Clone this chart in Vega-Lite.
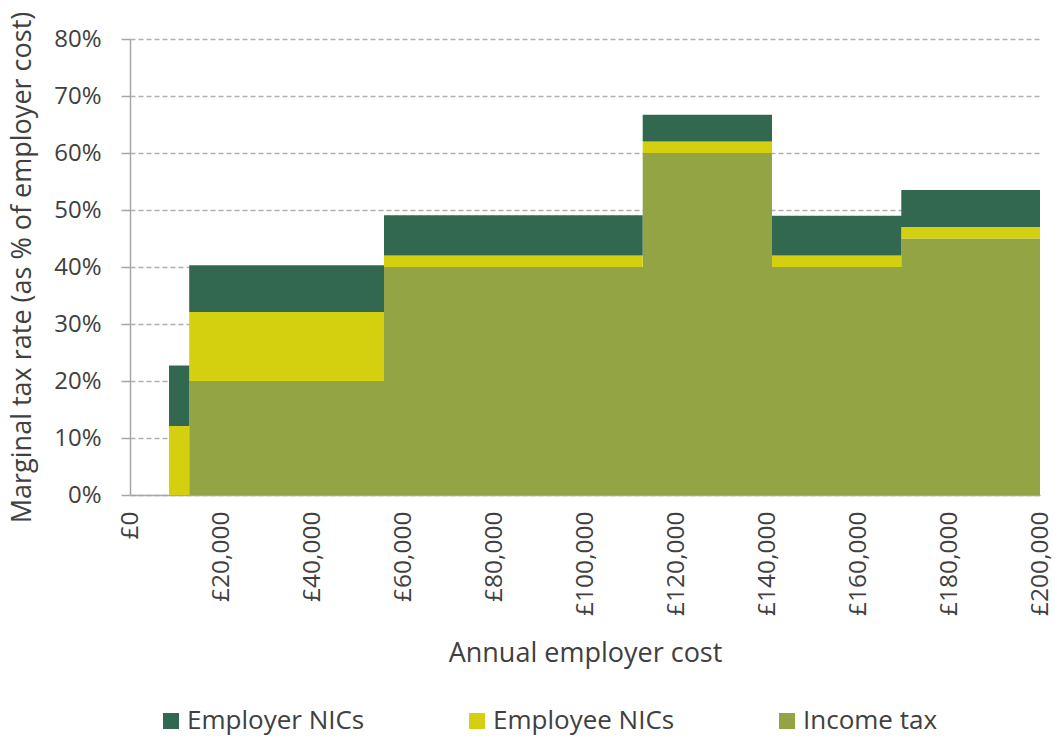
{
  "$schema": "https://vega.github.io/schema/vega-lite/v6.json",
  "width": 910,
  "height": 456,
  "autosize": {"type": "none"},
  "padding": {"left": 130, "top": 39, "right": 15, "bottom": 241},
  "background": "white",
  "config": {
    "font": "Open Sans",
    "view": {"stroke": null},
    "axis": {"labelColor": "#404040", "titleColor": "#404040", "labelFont": "Open Sans", "titleFont": "Open Sans", "titleFontWeight": "normal"}
  },
  "data": {
    "values": [
      {"cost": 8571, "component": "Income tax", "rate": 0},
      {"cost": 13011, "component": "Income tax", "rate": 20},
      {"cost": 55824, "component": "Income tax", "rate": 40},
      {"cost": 112681, "component": "Income tax", "rate": 60},
      {"cost": 141099, "component": "Income tax", "rate": 40},
      {"cost": 169516, "component": "Income tax", "rate": 45},
      {"cost": 200000, "component": "Income tax", "rate": 45},
      {"cost": 8571, "component": "Employee NICs", "rate": 12.1},
      {"cost": 13011, "component": "Employee NICs", "rate": 12.1},
      {"cost": 55824, "component": "Employee NICs", "rate": 2},
      {"cost": 112681, "component": "Employee NICs", "rate": 2},
      {"cost": 141099, "component": "Employee NICs", "rate": 2},
      {"cost": 169516, "component": "Employee NICs", "rate": 2},
      {"cost": 200000, "component": "Employee NICs", "rate": 2},
      {"cost": 8571, "component": "Employer NICs", "rate": 10.6},
      {"cost": 13011, "component": "Employer NICs", "rate": 8.2},
      {"cost": 55824, "component": "Employer NICs", "rate": 7.1},
      {"cost": 112681, "component": "Employer NICs", "rate": 4.7},
      {"cost": 141099, "component": "Employer NICs", "rate": 7.0},
      {"cost": 169516, "component": "Employer NICs", "rate": 6.5},
      {"cost": 200000, "component": "Employer NICs", "rate": 6.5}
    ]
  },
  "transform": [
    {"calculate": "indexof(['Income tax','Employee NICs','Employer NICs'], datum.component)", "as": "stackOrder"}
  ],
  "mark": {"type": "area", "interpolate": "step-after"},
  "encoding": {
    "x": {
      "field": "cost", "type": "quantitative",
      "scale": {"domain": [0, 200000], "nice": false},
      "axis": {
        "title": "Annual employer cost",
        "titleFontSize": 27, "titlePadding": 25,
        "values": [0, 20000, 40000, 60000, 80000, 100000, 120000, 140000, 160000, 180000, 200000],
        "labelExpr": "'£' + format(datum.value, ',')",
        "labelAngle": -90, "labelAlign": "right", "labelBaseline": "middle",
        "labelFontSize": 24.5, "labelPadding": 16,
        "ticks": false, "grid": false,
        "domainColor": "#a6a6a6", "domainWidth": 1.5,
        "labelOverlap": false, "labelFlush": false
      }
    },
    "y": {
      "field": "rate", "type": "quantitative", "stack": "zero",
      "scale": {"domain": [0, 80], "nice": false},
      "axis": {
        "title": "Marginal tax rate (as % of employer cost)",
        "titleFontSize": 27, "titlePadding": 17,
        "values": [0, 10, 20, 30, 40, 50, 60, 70, 80],
        "labelExpr": "datum.value + '%'",
        "labelFontSize": 24, "labelPadding": 20,
        "tickSize": 9, "tickColor": "#a6a6a6", "tickWidth": 1.5,
        "domainColor": "#a6a6a6", "domainWidth": 1.5,
        "grid": true, "gridColor": "#b0b0b0", "gridDash": [5, 3], "gridWidth": 1.5
      }
    },
    "color": {
      "field": "component", "type": "nominal",
      "scale": {
        "domain": ["Employer NICs", "Employee NICs", "Income tax"],
        "range": ["#336850", "#d4d00f", "#93a444"]
      },
      "legend": {
        "title": null,
        "orient": "none", "legendX": 28, "legendY": 669,
        "direction": "horizontal",
        "symbolType": "square", "symbolSize": 256, "symbolStrokeWidth": 0, "symbolOpacity": 1,
        "labelFontSize": 26, "labelColor": "#404040", "labelFont": "Open Sans",
        "labelOffset": 3, "columnPadding": 99, "labelLimit": 400
      }
    },
    "order": {"field": "stackOrder", "type": "quantitative"}
  }
}
